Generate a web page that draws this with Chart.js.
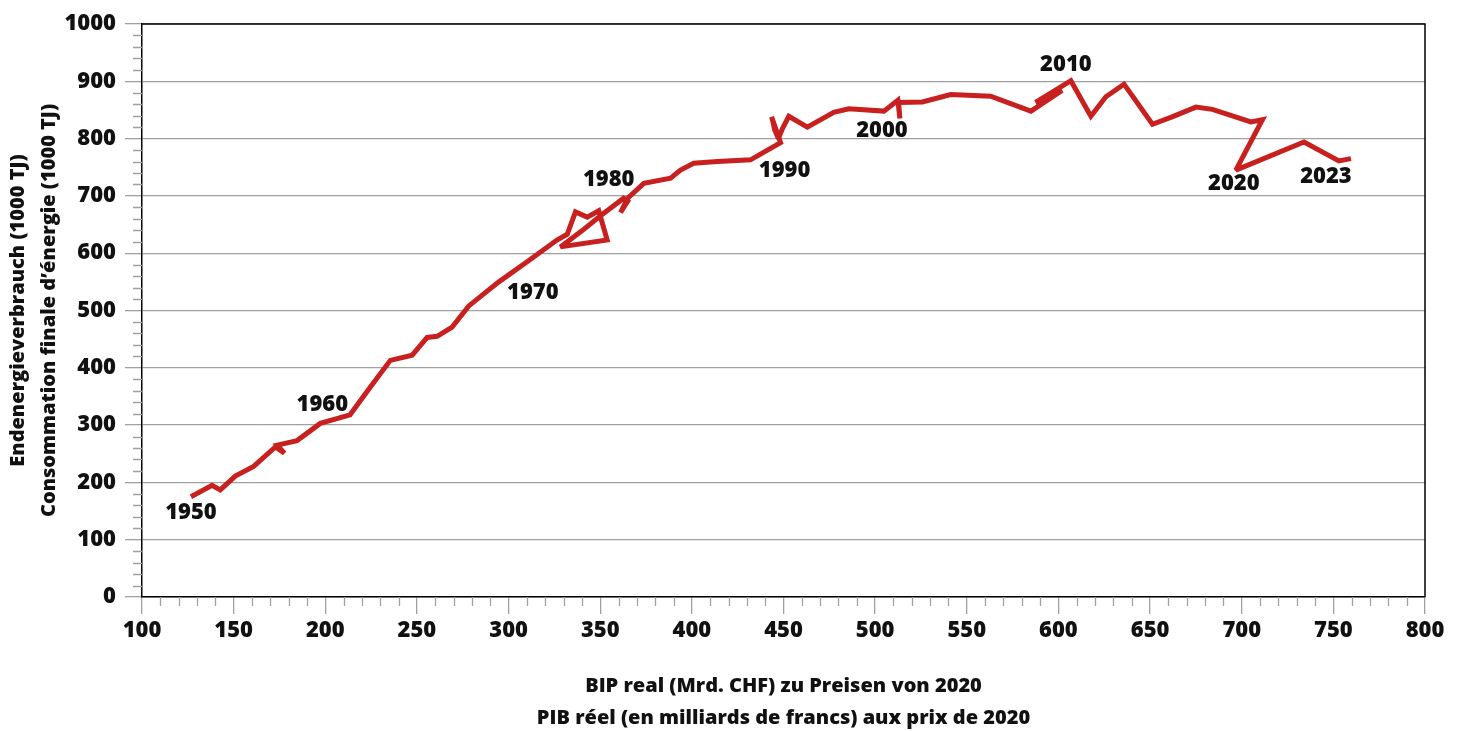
<!DOCTYPE html>
<html lang="de">
<head>
<meta charset="utf-8">
<title>Endenergieverbrauch und BIP 1950–2023</title>
<script src="https://cdn.jsdelivr.net/npm/chart.js@4.4.1/dist/chart.umd.min.js"></script>
<style>
    html, body { margin: 0; padding: 0; background: #fff; }
    #wrap { width: 1460px; height: 731px; position: relative; }
</style>
</head>
<body>
<div id="wrap"><canvas id="chartEnergie"></canvas></div>
<script>
// ==============================
// Daten: BIP real (Mrd. CHF, Preise 2020) / Endenergieverbrauch (1000 TJ)
// ==============================
const years = [
    1950, 1951, 1952, 1953, 1954, 1955, 1956, 1957, 1958, 1959,
    1960, 1961, 1962, 1963, 1964, 1965, 1966, 1967, 1968, 1969,
    1970, 1971, 1972, 1973, 1974, 1975, 1976, 1977, 1978, 1979,
    1980, 1981, 1982, 1983, 1984, 1985, 1986, 1987, 1988, 1989,
    1990, 1991, 1992, 1993, 1994, 1995, 1996, 1997, 1998, 1999,
    2000, 2001, 2002, 2003, 2004, 2005, 2006, 2007, 2008, 2009,
    2010, 2011, 2012, 2013, 2014, 2015, 2016, 2017, 2018, 2019,
    2020, 2021, 2022, 2023
];

const bip = [
    126.7, 138.2, 142.7, 150.9, 160.9, 172.8, 177.7, 173.7, 184.6, 197.3,
    208.2, 213.5, 224.5, 235.5, 247.4, 255.6, 261.0, 269.2, 278.3, 294.7,
    310.5, 326.4, 332.0, 336.5, 342.9, 349.2, 353.8, 328.3, 340.0, 350.0,
    362.8, 365.0, 361.1, 365.0, 373.8, 388.4, 393.8, 401.0, 414.0, 432.0,
    448.4, 443.5, 444.2, 445.2, 447.2, 449.5, 452.9, 463.0, 477.4, 485.6,
    504.8, 512.4, 513.5, 512.8, 525.8, 541.2, 563.0, 585.0, 602.0, 587.5,
    606.8, 617.7, 625.9, 635.8, 651.3, 662.0, 675.0, 684.0, 705.0, 711.3,
    696.8, 734.0, 753.0, 759.6
];

const energie = [
    175, 195, 187, 211, 228, 262, 251, 265, 273, 303,
    313, 318, 366, 413, 422, 453, 455, 471, 508, 550,
    586, 623, 633, 672, 663, 674, 623, 611, 639, 665,
    696, 691, 671, 696, 722, 731, 745, 757, 760, 763,
    793, 838, 830, 815, 800, 818, 839, 820, 846, 852,
    848, 867, 835, 863, 864, 877, 874, 848, 884, 863,
    901, 839, 873, 895, 825, 838, 855, 851, 829, 833,
    745, 794, 761, 765
];

// Achsenbeschriftung
const xTicks = [100, 150, 200, 250, 300, 350, 400, 450, 500, 550, 600, 650, 700, 750, 800];
const yTicks = [0, 100, 200, 300, 400, 500, 600, 700, 800, 900, 1000];

// Beschriftete Jahre
const yearLabels = ['1950', '1960', '1970', '1980', '1990', '2000', '2010', '2020', '2023'];

const xTitle = ['BIP real (Mrd. CHF) zu Preisen von 2020', 'PIB réel (en milliards de francs) aux prix de 2020'];
const yTitle = ['Endenergieverbrauch (1000 TJ)', 'Consommation finale d\u2019énergie (1000 TJ)'];

// ==============================
// Stil
// ==============================
const FONT = "'Open Sans', 'Noto Sans', sans-serif";
const WEIGHT = 800;
const RED = '#c8201e';
const GRID = '#a0a0a0';
const TEXT = '#111111';

// ==============================
// Plugins
// ==============================
// Rahmen oben/rechts und Zwischenstriche an den Achsen
const frameAndMinorTicks = {
    id: 'frameAndMinorTicks',
    beforeDatasetsDraw(chart) {
        const { ctx, chartArea: a, scales: { x, y } } = chart;
        ctx.save();
        ctx.strokeStyle = GRID;
        ctx.lineWidth = 1.3;
        ctx.beginPath();
        for (let v = x.min; v <= x.max; v += 10) {
            if (v % 50 === 0) continue;
            const px = Math.round(x.getPixelForValue(v)) + 0.5;
            ctx.moveTo(px, a.bottom);
            ctx.lineTo(px, a.bottom + 9);
        }
        for (let v = y.min; v <= y.max; v += 20) {
            if (v % 100 === 0) continue;
            const py = Math.round(y.getPixelForValue(v)) + 0.5;
            ctx.moveTo(a.left - 9, py);
            ctx.lineTo(a.left, py);
        }
        ctx.stroke();

        ctx.strokeStyle = '#000';
        ctx.lineWidth = 1.5;
        ctx.beginPath();
        ctx.moveTo(a.left, a.top);
        ctx.lineTo(a.right, a.top);
        ctx.lineTo(a.right, a.bottom);
        ctx.stroke();
        ctx.restore();

        // kurze Spitzen an den Knicken der Kurve
        ctx.miterLimit = 2.5;
    }
};

// Jahreszahlen neben dem Kurvenverlauf
const yearLabelPlugin = {
    id: 'yearLabelPlugin',
    afterDatasetsDraw(chart, args, opts) {
        const { ctx } = chart;
        const meta = chart.getDatasetMeta(0);
        ctx.save();
        ctx.font = `${WEIGHT} ${opts.size}px ${FONT}`;
        ctx.fillStyle = TEXT;
        ctx.textAlign = 'center';
        ctx.textBaseline = 'middle';
        yearLabels.forEach(label => {
            const idx = years.indexOf(Number(label));
            const pt = meta.data[idx];
            const off = opts.offsets[label] || [0, 0];
            ctx.fillText(label, pt.x + off[0], pt.y + off[1]);
        });
        ctx.restore();
    }
};

// ==============================
// Chart
// ==============================
function renderChart() {
    const ctx = document.getElementById('chartEnergie').getContext('2d');
    new Chart(ctx, {
        type: 'scatter',
        data: {
            datasets: [{
                data: years.map((yr, i) => ({ x: bip[i], y: energie[i] })),
                showLine: true,
                borderColor: RED,
                borderWidth: 5,
                borderJoinStyle: 'miter',
                borderCapStyle: 'butt',
                pointRadius: 0,
                tension: 0,
                fill: false
            }]
        },
        options: {
            responsive: true,
            maintainAspectRatio: false,
            animation: false,
            devicePixelRatio: 1,
            layout: { padding: { top: 24, right: 35, left: 0, bottom: 0 } },
            plugins: {
                legend: { display: false },
                tooltip: { enabled: false },
                yearLabelPlugin: {
                    size: 22,
                    offsets: {
                        '1950': [0, 16], '1960': [-18, -13], '1970': [5, 32],
                        '1980': [-15, -18], '1990': [4, 28], '2000': [-2, 20],
                        '2010': [-5, -16], '2020': [-2, 14], '2023': [-25, 18]
                    }
                }
            },
            scales: {
                x: {
                    type: 'linear',
                    min: 100,
                    max: 800,
                    afterBuildTicks: s => { s.ticks = xTicks.map(v => ({ value: v })); },
                    afterFit: s => { s.height = 134; },
                    grid: { drawOnChartArea: false, color: GRID, tickColor: GRID, tickLength: 17, lineWidth: 1.3 },
                    border: { color: '#000', width: 1.5 },
                    ticks: {
                        font: { family: FONT, size: 22, weight: WEIGHT },
                        color: TEXT, padding: 4, maxRotation: 0, autoSkip: false,
                        callback: v => String(v)
                    },
                    title: {
                        display: true, text: xTitle, color: TEXT,
                        font: { family: FONT, size: 20, weight: WEIGHT, lineHeight: 32 / 20 },
                        padding: { top: 0, bottom: -3 }
                    }
                },
                y: {
                    type: 'linear',
                    min: 0,
                    max: 1000,
                    afterBuildTicks: s => { s.ticks = yTicks.map(v => ({ value: v })); },
                    afterFit: s => { s.width = 142; },
                    grid: { color: GRID, tickColor: GRID, tickLength: 17, lineWidth: 1.3 },
                    border: { color: '#000', width: 1.5 },
                    ticks: {
                        font: { family: FONT, size: 22, weight: WEIGHT },
                        color: TEXT, padding: 9, autoSkip: false,
                        callback: v => String(v)
                    },
                    title: {
                        display: true, text: yTitle, color: TEXT,
                        font: { family: FONT, size: 20, weight: WEIGHT, lineHeight: 31 / 20 },
                        padding: { top: 2.5, bottom: 0 }
                    }
                }
            }
        },
        plugins: [frameAndMinorTicks, yearLabelPlugin]
    });
}

renderChart();
</script>
</body>
</html>
